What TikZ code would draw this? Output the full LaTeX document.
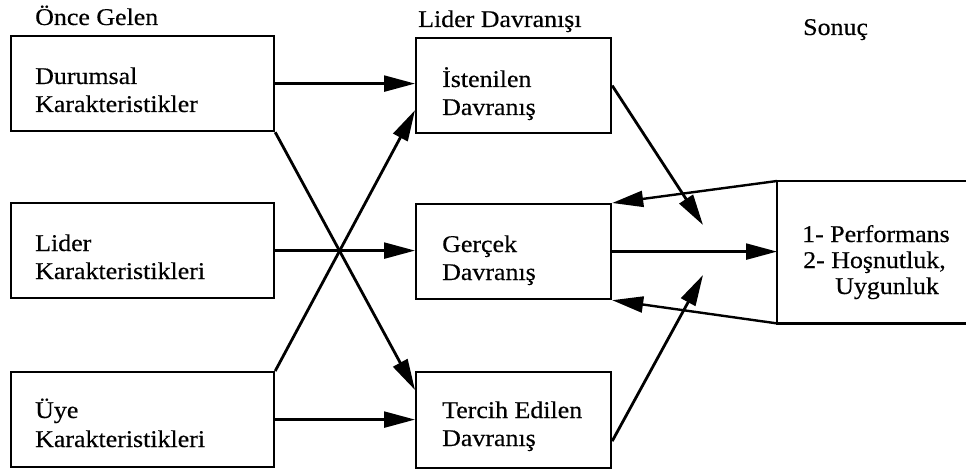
\documentclass[tikz,border=0pt]{standalone}
\usepackage{fontspec}
\setmainfont{Liberation Serif}[FakeStretch=1.08,FakeBold=0.4]
\usetikzlibrary{arrows.meta}
\begin{document}
\begin{tikzpicture}[x=1pt,y=-1pt,
  box/.style={draw, line width=2.2pt, anchor=north west, inner sep=0pt, minimum height=95pt},
  lbox/.style={box, minimum width=263pt},
  mbox/.style={box, minimum width=195pt},
  txt/.style={anchor=base west, inner sep=0pt, font=\fontsize{24}{28}\selectfont},
  arr/.style={line width=2.4pt, -{Triangle[length=31pt,width=16pt]}},
  diag/.style={arr, line width=2.8pt},
  edge/.style={line width=2.2pt}
]
\useasboundingbox (0,0) rectangle (966,473);
% boxes
\node[lbox] (d) at (10,35) {};
\node[lbox] (l) at (10,202) {};
\node[lbox] (u) at (10,371) {};
\node[mbox] (i) at (415,37) {};
\node[mbox] (g) at (415,203) {};
\node[mbox, minimum height=96pt] (t) at (415,371) {};
\node[minimum width=189pt, minimum height=142pt, inner sep=0pt, anchor=north west] (r) at (777,181) {};
\draw[edge] (r.north east) -- (r.north west) -- (r.south west) -- (r.south east);
% box texts
\node[txt] (d1) at ([xshift=25pt,yshift=-49pt]d.north west) {Durumsal};
\node[txt] (d2) at ([xshift=25pt,yshift=-77pt]d.north west) {Karakteristikler};
\node[txt] (l1) at ([xshift=25pt,yshift=-49pt]l.north west) {Lider};
\node[txt] (l2) at ([xshift=25pt,yshift=-77pt]l.north west) {Karakteristikleri};
\node[txt] (u1) at ([xshift=25pt,yshift=-47pt]u.north west) {Üye};
\node[txt] (u2) at ([xshift=25pt,yshift=-76pt]u.north west) {Karakteristikleri};
\node[txt] (i1) at ([xshift=27pt,yshift=-50pt]i.north west) {İstenilen};
\node[txt] (i2) at ([xshift=27pt,yshift=-78pt]i.north west) {Davranış};
\node[txt] (g1) at ([xshift=27pt,yshift=-49pt]g.north west) {Gerçek};
\node[txt] (g2) at ([xshift=27pt,yshift=-77pt]g.north west) {Davranış};
\node[txt] (t1) at ([xshift=27pt,yshift=-47pt]t.north west) {Tercih Edilen};
\node[txt] (t2) at ([xshift=27pt,yshift=-75pt]t.north west) {Davranış};
\node[txt] (r1) at (802,242) {1- Performans};
\node[txt] (r2) at (803,268) {2- Hoşnutluk,};
\node[txt] (r3) at (835,294) {Uygunluk};
% headings
\node[txt] (h1) at (35,25) {Önce Gelen};
\node[txt] (h2) at (418,27) {Lider Davranışı};
\node[txt] (h3) at (803,35) {Sonuç};
% connectors
\coordinate (m1) at (703,225);
\coordinate (m2) at (703,275);
\draw[arr] (d.east) -- (d.east -| i.west);
\draw[arr] (l.east) -- (l.east -| g.west);
\draw[arr] (u.east) -- (u.east -| t.west);
\draw[diag] (d.south east) -- ([yshift=-19pt]t.north west);
\draw[diag] (u.north east) -- ([yshift=24pt]i.south west);
\draw[diag] (i.east) -- (m1);
\draw[diag] ([yshift=-21pt]t.east) -- (m2);
\draw[arr] (r.north west) -- (g.north east);
\draw[arr] (r.south west) -- (g.south east);
\draw[arr] (g.east) -- (g.east -| r.west);
\end{tikzpicture}
\end{document}
